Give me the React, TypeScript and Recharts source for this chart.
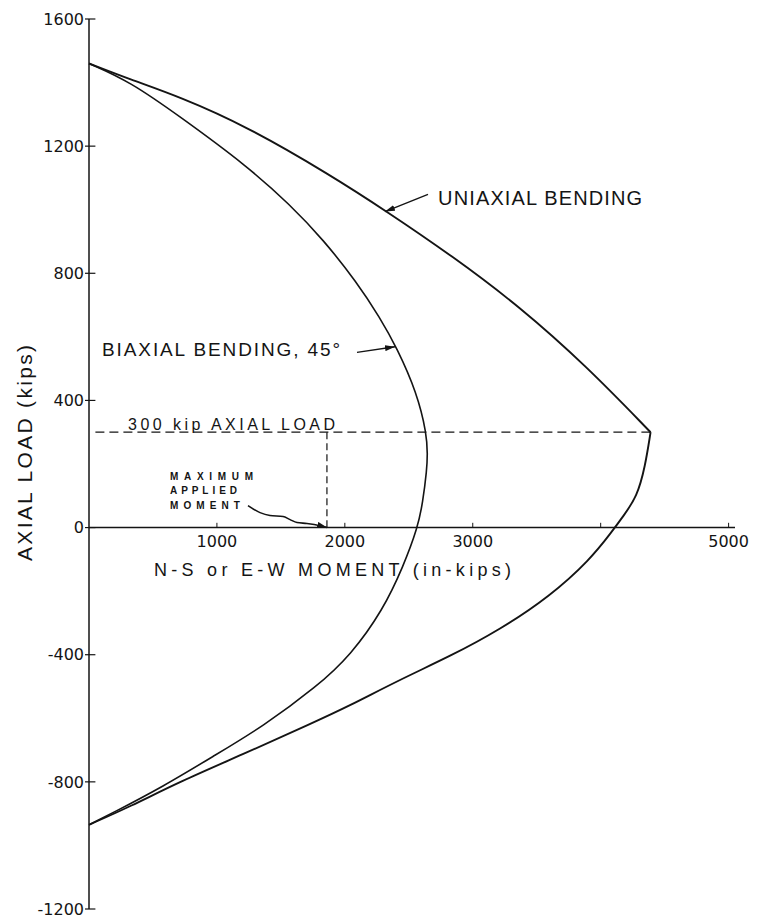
import { LineChart, Line, XAxis, YAxis, ReferenceLine, ReferenceDot } from 'recharts';

// interaction diagram: moment (in-kips) vs axial load (kips)
const uniUpperM = [0, 320, 711, 1234, 1884, 2330, 2844, 3367, 3891, 4390];
const uniUpperP = [1460, 1410, 1355, 1262, 1110, 994, 853, 695, 507, 300];

// ordered bottom to top
const uniLowerM = [0, 320, 711, 1234, 1750, 2015, 2432, 2823, 3213, 3604, 3917, 4089, 4175, 4285, 4347, 4390];
const uniLowerP = [-935, -878, -799, -708, -614, -565, -478, -405, -321, -216, -101, -12, 35, 98, 191, 300];

const biaxM = [0, 188, 578, 969, 1359, 1782, 2045, 2300, 2457, 2570, 2609, 2641, 2646, 2641, 2563, 2406, 2275, 2093, 1831, 1571, 1234, 711, 320, 0];
const biaxP = [-935, -897, -815, -720, -626, -500, -402, -258, -122, 0, 79, 182, 230, 293, 425, 566, 660, 772, 906, 1016, 1138, 1293, 1403, 1460];

const yTicks = [1600, 1200, 800, 400, 0, -400, -800, -1200];
const xTicks = [1000, 2000, 3000, 4000, 5000];
const xTickLabels = ['1000', '2000', '3000', '', '5000'];

const designLoad = 300;
const maxAppliedMoment = 1860;

const uniArrowM = [2650, 2314];
const uniArrowP = [1048, 994];
const biArrowM = [2095, 2392];
const biArrowP = [551, 569];
const momArrowM = [1243, 1337, 1415, 1517, 1572, 1626, 1704, 1806, 1861];
const momArrowP = [69, 47, 38, 35, 25, 16, 13, 6, 0];

const toRows = (m: number[], p: number[]) => m.map((v, i) => ({ m: v, p: p[i] }));

const FONT = '"Liberation Sans", Arial, sans-serif';
const INK = '#141414';

const notes = [
  { text: 'UNIAXIAL BENDING', m: 2729, p: 1016, size: 20, len: 204, weight: 'normal' },
  { text: 'BIAXIAL BENDING, 45°', m: 102, p: 541, size: 19, len: 238, weight: 'normal' },
  { text: '300 kip AXIAL LOAD', m: 305, p: 308, size: 16, len: 207, weight: 'normal' },
  { text: 'MAXIMUM', m: 633, p: 151, size: 10, len: 83, weight: 'bold' },
  { text: 'APPLIED', m: 633, p: 107, size: 10, len: 67, weight: 'bold' },
  { text: 'MOMENT', m: 633, p: 60, size: 10, len: 70, weight: 'bold' },
  { text: 'N-S or E-W MOMENT (in-kips)', m: 508, p: -151, size: 18, len: 357, weight: 'normal' },
];

const noteLabel = (n: (typeof notes)[number]) => (props: any) => {
  const { x, y } = props.viewBox;
  return (
    <text
      x={x}
      y={y}
      fontSize={n.size}
      fontFamily={FONT}
      fontWeight={n.weight}
      textLength={n.len}
      lengthAdjust="spacing"
      fill={INK}
    >
      {n.text}
    </text>
  );
};

const tickLabel = (text: string) => (props: any) => {
  const { x, y } = props.viewBox;
  return (
    <text x={x} y={y + 19} fontSize={16} fontFamily="DejaVu Sans" textAnchor="middle" fill={INK}>
      {text}
    </text>
  );
};

const yAxisTitle = (props: any) => {
  const { y, height } = props.viewBox;
  const cx = 24;
  const cy = y + height / 2 - 11;
  return (
    <text
      x={cx}
      y={cy}
      transform={`rotate(-90 ${cx} ${cy})`}
      textAnchor="middle"
      dominantBaseline="central"
      fontSize={21}
      fontFamily={FONT}
      textLength={216}
      lengthAdjust="spacing"
      fill={INK}
    >
      AXIAL LOAD (kips)
    </text>
  );
};

export default function App() {
  return (
    <div style={{ position: 'absolute', left: 0, top: 0, width: 758, height: 922, background: '#fff' }}>
      <LineChart width={758} height={922} margin={{ top: 19, right: 23, bottom: 13, left: 0 }}>
        <defs>
          <marker
            id="arrowHead"
            viewBox="0 0 10 6"
            refX="10"
            refY="3"
            markerWidth="10"
            markerHeight="6"
            markerUnits="userSpaceOnUse"
            orient="auto"
          >
            <path d="M0,0 L10,3 L0,6 z" fill={INK} />
          </marker>
        </defs>
        <XAxis type="number" dataKey="m" domain={[0, 5050]} hide allowDuplicatedCategory={false} />
        <YAxis
          type="number"
          domain={[-1200, 1600]}
          ticks={yTicks}
          interval={0}
          width={89}
          tickSize={4}
          tickMargin={1}
          axisLine={{ stroke: INK, strokeWidth: 1.5 }}
          tickLine={{ stroke: INK, strokeWidth: 1.2 }}
          tick={{ fill: INK, fontSize: 16, fontFamily: 'DejaVu Sans' }}
          label={yAxisTitle}
        />

        {/* x axis drawn through zero load */}
        <ReferenceLine y={0} stroke={INK} strokeWidth={1.6} />
        {xTicks.map((t) => (
          <ReferenceLine
            key={`xt${t}`}
            segment={[{ x: t, y: 0 }, { x: t, y: 15 }]}
            stroke={INK}
            strokeWidth={1}
          />
        ))}
        {xTicks.map((t, i) =>
          xTickLabels[i] ? (
            <ReferenceDot key={`xl${t}`} x={t} y={0} r={0} stroke="none" label={tickLabel(xTickLabels[i])} />
          ) : null
        )}
        {yTicks.map((t) => (
          <ReferenceLine
            key={`yt${t}`}
            segment={[{ x: 0, y: t }, { x: 50, y: t }]}
            stroke={INK}
            strokeWidth={1.2}
          />
        ))}

        <ReferenceLine
          segment={[{ x: 50, y: designLoad }, { x: 4390, y: designLoad }]}
          stroke={INK}
          strokeWidth={1.3}
          strokeDasharray="9 5"
        />
        <ReferenceLine
          segment={[{ x: maxAppliedMoment, y: designLoad }, { x: maxAppliedMoment, y: 0 }]}
          stroke={INK}
          strokeWidth={1.2}
          strokeDasharray="7 4"
        />

        <Line
          data={toRows(uniUpperM, uniUpperP)}
          dataKey="p"
          type="basis"
          stroke={INK}
          strokeWidth={1.9}
          dot={false}
          isAnimationActive={false}
        />
        <Line
          data={toRows(uniLowerM, uniLowerP)}
          dataKey="p"
          type="basis"
          stroke={INK}
          strokeWidth={1.9}
          dot={false}
          isAnimationActive={false}
        />
        <Line
          data={toRows(biaxM, biaxP)}
          dataKey="p"
          type="basis"
          stroke={INK}
          strokeWidth={1.6}
          dot={false}
          isAnimationActive={false}
        />

        <Line
          data={toRows(uniArrowM, uniArrowP)}
          dataKey="p"
          type="linear"
          stroke={INK}
          strokeWidth={1.4}
          dot={false}
          markerEnd="url(#arrowHead)"
          isAnimationActive={false}
        />
        <Line
          data={toRows(biArrowM, biArrowP)}
          dataKey="p"
          type="linear"
          stroke={INK}
          strokeWidth={1.4}
          dot={false}
          markerEnd="url(#arrowHead)"
          isAnimationActive={false}
        />
        <Line
          data={toRows(momArrowM, momArrowP)}
          dataKey="p"
          type="monotone"
          stroke={INK}
          strokeWidth={1.6}
          dot={false}
          markerEnd="url(#arrowHead)"
          isAnimationActive={false}
        />

        {notes.map((n) => (
          <ReferenceDot key={n.text} x={n.m} y={n.p} r={0} stroke="none" label={noteLabel(n)} />
        ))}
      </LineChart>
    </div>
  );
}
